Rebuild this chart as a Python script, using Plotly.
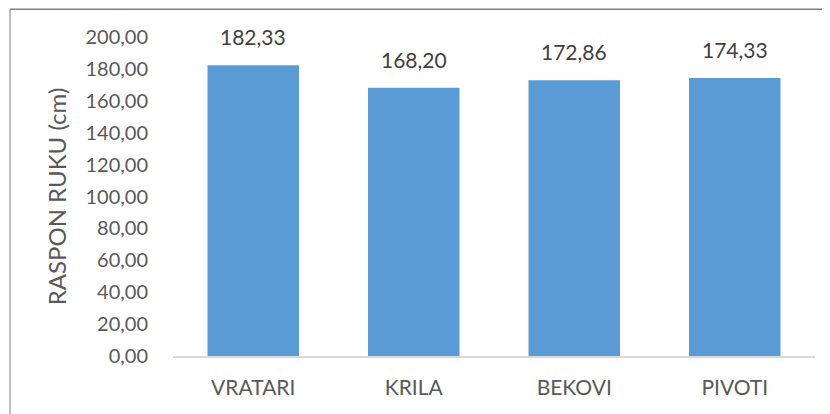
import plotly.graph_objects as go

categories = ["VRATARI", "KRILA", "BEKOVI", "PIVOTI"]
values = [182.33, 168.20, 172.86, 174.33]
tick_vals = [0, 20, 40, 60, 80, 100, 120, 140, 160, 180, 200]
tick_text = [f"{v:.2f}".replace(".", ",") for v in tick_vals]
value_labels = [f"{v:.2f}".replace(".", ",") for v in values]
y_title = "RASPON RUKU (cm)"

# page has an 8px body margin, so the figure is offset by 8px
W, H = 822, 406
L, R, T, B = 165, 15, 28.5, 57.5
FONT = "Lato, 'Open Sans', sans-serif"

fig = go.Figure()
fig.add_trace(go.Bar(
    x=categories, y=values,
    marker=dict(color="#5B9BD5", line=dict(width=0)),
    width=0.57,
    hoverinfo="skip",
))

for c, v, lab in zip(categories, values, value_labels):
    fig.add_annotation(x=c, y=v, text=lab, showarrow=False,
                       yanchor="bottom", yshift=14,
                       font=dict(family=FONT, size=21, color="#404040"))

pw = W - L - R
ph = H - T - B
def px_x(p):
    return (p - L) / pw
def px_y(p):
    return 1 - (p - T) / ph

# outer chart border (partly outside the image)
fig.add_shape(type="line", xref="paper", yref="paper",
              x0=px_x(2), x1=px_x(2), y0=px_y(0.5), y1=px_y(420),
              line=dict(color="#A6A6A6", width=1.5))
fig.add_shape(type="line", xref="paper", yref="paper",
              x0=px_x(2), x1=px_x(830), y0=px_y(0.75), y1=px_y(0.75),
              line=dict(color="#7F7F7F", width=1.5))

fig.update_layout(
    width=W, height=H,
    margin=dict(l=L, r=R, t=T, b=B, autoexpand=False),
    paper_bgcolor="white", plot_bgcolor="white",
    showlegend=False,
    bargap=0.43,
    font=dict(family=FONT, size=20, color="#595959"),
    xaxis=dict(
        showline=True, linecolor="#D9D9D9", linewidth=1.5,
        showgrid=False, ticks="", ticklabelstandoff=12,
        tickfont=dict(family=FONT, size=21, color="#595959"),
    ),
    yaxis=dict(
        range=[0, 200], tickvals=tick_vals, ticktext=tick_text,
        showgrid=False, showline=False, zeroline=False, ticks="",
        ticklabelstandoff=24,
        tickfont=dict(family=FONT, size=20, color="#595959"),
        title=dict(text=y_title, standoff=12,
                   font=dict(family=FONT, size=24, color="#595959")),
    ),
)

fig.write_html("out.html")
